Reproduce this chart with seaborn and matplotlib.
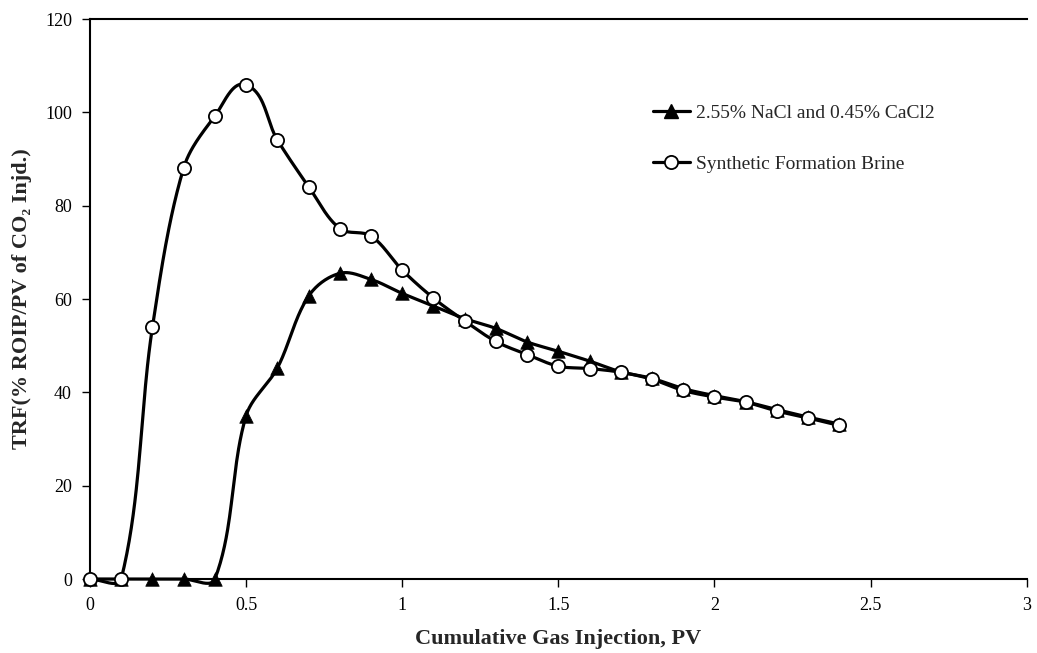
import numpy as np
import pandas as pd
import matplotlib
matplotlib.use("Agg")
import matplotlib.pyplot as plt
from matplotlib.lines import Line2D
import seaborn as sns

# Cumulative gas injection (PV)
injection_pv = [0.0, 0.1, 0.2, 0.3, 0.4, 0.5, 0.6, 0.7, 0.8, 0.9, 1.0, 1.1, 1.2,
                1.3, 1.4, 1.5, 1.6, 1.7, 1.8, 1.9, 2.0, 2.1, 2.2, 2.3, 2.4]

# TRF (% ROIP / PV of CO2 injected)
trf_nacl_cacl2 = [0, 0, 0, 0, 0, 35.0, 45.2, 60.6, 65.5, 64.2, 61.2, 58.5, 55.8,
                  53.7, 50.8, 48.8, 46.7, 44.4, 43.0, 40.8, 39.3, 38.0, 36.3, 34.7, 33.2]
trf_synthetic = [0, 0, 54.0, 88.1, 99.2, 105.9, 94.1, 84.1, 75.1, 73.5, 66.2, 60.2, 55.3,
                 50.9, 48.1, 45.6, 45.1, 44.3, 42.8, 40.4, 39.0, 37.9, 36.0, 34.5, 32.9]

series_names = ["2.55% NaCl and 0.45% CaCl2", "Synthetic Formation Brine"]
series_values = [trf_nacl_cacl2, trf_synthetic]
series_markers = ["^", "o"]

x_ticks = [0, 0.5, 1, 1.5, 2, 2.5, 3]
y_ticks = [0, 20, 40, 60, 80, 100, 120]

X_RANGE, Y_RANGE = (0, 3), (0, 120)
AX_RECT = [0.0868, 0.1133, 0.9032, 0.8576]
FIG_W, FIG_H = 1037, 653


def smooth_curve(x, y, n=40):
    """Bezier smoothing through every point; tangent handles are scaled by the
    on-screen length of each segment so short segments do not overshoot."""
    sx = AX_RECT[2] * FIG_W / (X_RANGE[1] - X_RANGE[0])
    sy = AX_RECT[3] * FIG_H / (Y_RANGE[1] - Y_RANGE[0])
    p = np.column_stack([np.asarray(x, float) * sx, np.asarray(y, float) * sy])
    m = len(p)
    tang = np.zeros_like(p)
    for i in range(m):
        a = p[max(i - 1, 0)]
        b = p[min(i + 1, m - 1)]
        d = b - a
        tang[i] = d / np.linalg.norm(d)
    t = np.linspace(0, 1, n)[:, None]
    out = []
    for i in range(m - 1):
        p1, p2 = p[i], p[i + 1]
        seg_len = np.linalg.norm(p2 - p1)
        c1 = p1 + tang[i] * seg_len / 3.0
        c2 = p2 - tang[i + 1] * seg_len / 3.0
        seg = ((1 - t) ** 3) * p1 + 3 * ((1 - t) ** 2) * t * c1 + 3 * (1 - t) * t ** 2 * c2 + t ** 3 * p2
        out.append(seg if i == 0 else seg[1:])
    out = np.vstack(out)
    return out[:, 0] / sx, out[:, 1] / sy


points = pd.concat([
    pd.DataFrame({"pv": injection_pv, "trf": vals, "series": name})
    for name, vals in zip(series_names, series_values)
], ignore_index=True)

curves = []
for name, vals in zip(series_names, series_values):
    cx, cy = smooth_curve(injection_pv, vals)
    curves.append(pd.DataFrame({"pv": cx, "trf": cy, "series": name}))
curves = pd.concat(curves, ignore_index=True)

sns.set_style("ticks")
plt.rcParams["font.family"] = ["Liberation Serif", "DejaVu Serif"]

fig = plt.figure(figsize=(FIG_W / 100, FIG_H / 100), dpi=100)
ax = fig.add_axes(AX_RECT)

for name in series_names:
    sns.lineplot(data=curves[curves.series == name], x="pv", y="trf", color="black",
                 sort=False, estimator=None, linewidth=2.3, ax=ax, legend=False, zorder=2)
for name, marker in zip(series_names, series_markers):
    sub = points[points.series == name]
    if marker == "o":
        sns.scatterplot(data=sub, x="pv", y="trf", marker="o", s=90, facecolor="white",
                        edgecolor="black", linewidth=1.3, ax=ax, legend=False, zorder=3)
    else:
        sns.scatterplot(data=sub, x="pv", y="trf", marker="^", s=95, color="black",
                        edgecolor="black", linewidth=0.5, ax=ax, legend=False, zorder=3)

# let marks at zero (and the small undershoots) sit over the axis line
for artist in ax.lines + ax.collections:
    artist.set_clip_on(False)

ax.set_xlim(*X_RANGE)
ax.set_ylim(*Y_RANGE)
ax.set_xticks(x_ticks)
ax.set_xticklabels([f"{v:g}" for v in x_ticks])
ax.set_yticks(y_ticks)
ax.set_yticklabels([f"{v:g}" for v in y_ticks])
ax.tick_params(axis="both", direction="out", length=6, width=1.0, labelsize=13,
               colors="black", pad=7)

for side in ["left", "bottom", "top"]:
    ax.spines[side].set_visible(True)
    ax.spines[side].set_color("black")
    ax.spines[side].set_linewidth(1.5)
    ax.spines[side].set_zorder(1)
ax.spines["right"].set_visible(False)

ax.set_xlabel("Cumulative Gas Injection, PV", fontsize=16, fontweight="bold", labelpad=11)
ax.set_ylabel("TRF(% ROIP/PV of CO\u2082 Injd.)", fontsize=16, fontweight="bold", labelpad=9)

handles = [
    Line2D([], [], color="black", lw=2.3, marker="^", markersize=9.5,
           markerfacecolor="black", markeredgecolor="black"),
    Line2D([], [], color="black", lw=2.3, marker="o", markersize=9.5,
           markerfacecolor="white", markeredgecolor="black", markeredgewidth=1.3),
]
ax.legend(handles, series_names, loc="upper left", bbox_to_anchor=(0.601, 0.848),
          frameon=False, fontsize=14, handlelength=1.9, handletextpad=0.3,
          labelspacing=1.73, borderpad=0, borderaxespad=0)

fig.savefig("out.png", dpi=100, facecolor="white")
